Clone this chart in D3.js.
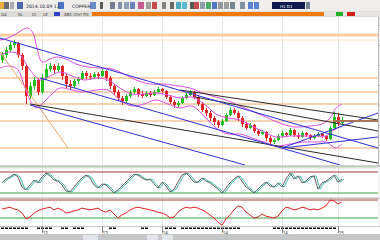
<!doctype html>
<html>
<head>
  <script src="https://cdnjs.cloudflare.com/ajax/libs/d3/7.8.5/d3.min.js"></script>
  <style>
    body { margin: 0; background: #d6d3ce; }
    svg { display: block; font-family: "DejaVu Sans", sans-serif; }
    .grid line { stroke: #e6e6e6; shape-rendering: crispEdges; }
    .grid path { display: none; }
  </style>
</head>
<body>
  <svg width="380" height="240"></svg>
  <script>
    // daily bars, copper in cents/lb
    var opens = [385,390,395,400,402,390,379,349,359,365,
      353,367,376,379,375,379,369,361,359,364,
      366,372,369,368,371,369,374,367,359,353,
      347,344,349,353,356,351,349,352,350,353,
      356,354,348,343,340,342,347,350,353,348,
      341,335,332,327,323,320,324,330,335,332,
      327,321,317,320,314,311,313,307,303,305,
      309,312,310,315,310,308,312,310,307,309,
      311,309,306,317,328,322];
    var highs = [393,398,403,405,403,392,381,363,368,367,
      371,381,382,381,382,380,371,365,366,368,
      374,374,372,373,373,376,375,369,361,355,
      349,351,355,358,357,354,354,354,355,358,
      357,355,350,345,344,349,352,355,354,350,
      343,337,334,329,325,326,332,338,337,334,
      329,323,322,321,316,315,314,309,307,311,
      314,313,317,316,312,314,313,311,311,313,
      312,310,319,333,332,328];
    var lows = [382,387,393,397,387,375,341,346,355,350,
      351,365,373,372,373,365,357,355,357,361,
      365,366,365,366,366,368,364,356,350,344,
      340,342,347,351,348,347,348,348,349,352,
      351,346,341,337,338,341,346,349,346,339,
      333,329,324,320,317,319,323,329,330,324,
      318,315,316,312,309,310,304,299,301,304,
      307,308,309,308,306,307,308,305,306,308,
      307,304,305,316,319,320];
    var closes = [390,395,400,402,390,379,349,359,365,353,
      367,376,379,375,379,369,361,359,364,366,
      372,369,368,371,369,374,367,359,353,347,
      344,349,353,356,351,349,352,350,353,356,
      354,348,343,340,342,347,350,353,348,341,
      335,332,327,323,320,324,330,335,332,327,
      321,317,320,314,311,313,307,303,305,309,
      312,310,315,310,308,312,310,307,309,311,
      309,306,317,328,322,325];

    // bollinger bands as [bar, price]
    var upperBand = [[-0.5,405],[1.5,407],[3.5,411],[5,415],[6.5,417],[7.75,412],[8.75,397],[10,383],[11.5,385],[13.5,388],
      [16,386],[18.5,381],[21.5,378],[24.5,377],[27.5,376],[30.5,371],[33.5,365],[37,361],[40.5,361],[44,359],
      [47,357],[49.5,353],[52.5,349],[56,345],[59.5,339],[63,333],[66.5,327],[70,321],[73.5,318],[77,319],
      [80,321],[82,327],[83.5,337],[85,341]];
    var midBand = [[-0.5,390],[2,393],[4.5,390],[7,375],[9.5,365],[12,369],[14.5,373],[17.5,369],[20.5,365],[23.5,367],
      [26.5,365],[29.5,357],[32.5,351],[35.5,351],[38.5,352],[41.5,350],[44.5,347],[47.5,348],[50.5,341],[53.5,331],
      [56.5,327],[59.5,325],[62.5,319],[65.5,313],[68.5,308],[72,309],[75.5,309],[78.5,309],[81,309],[83,315],[85,319]];
    var lowerBand = [[-0.5,377],[2,379],[4,375],[5.5,360],[7,345],[8.5,337],[10,341],[12,349],[14.5,357],[17.5,355],
      [20.5,353],[23.5,355],[26.5,355],[29.5,345],[32.5,339],[35.5,341],[38.5,345],[41.5,341],[44.5,337],[47.5,339],
      [50.5,329],[53.5,317],[56.5,311],[59.5,311],[62.5,307],[65.5,303],[68.5,299],[72,301],[75.5,303],[78.5,303],
      [81,303],[82.5,299],[83.5,297],[85,301]];

    // horizontal support / resistance levels
    var levels = [410, 405, 367, 353, 341, 324, 297];
    // drawn trend lines [[bar, price], [bar, price]]
    var blueLines = [[[-0.5,407],[94,297]], [[9.5,367],[84.5,280]], [[7,340],[60.75,280]],
      [[70,297],[94,332]], [[70.25,297],[94,308]]];
    var blackLines = [[[7,341],[94,282]], [[44.5,355],[94,325]], [[48.25,348],[94,314]]];
    var orangeLine = [[-0.5,393],[16.5,297]];
    var brownLine = [[82.75,324],[94,324]];

    // oscillators, one value per bar
    var stoch = [49,60,66,74,66,37,29,43,57,49,
      66,77,69,57,54,43,26,23,37,51,
      63,71,63,43,34,46,43,31,20,29,
      40,51,63,74,71,63,57,60,46,34,
      51,40,23,31,51,71,77,66,51,51,
      63,54,49,40,31,20,34,49,60,69,
      54,37,29,20,31,43,51,40,37,49,
      37,60,77,60,69,49,54,66,69,31,
      49,54,63,71,51,60];
    var rsi = [50,52,54,50,48,41,28,32,41,46,
      50,52,54,48,52,48,41,43,46,48,
      52,50,48,50,52,46,43,48,39,30,
      37,41,48,52,54,52,50,48,46,43,
      41,37,30,32,43,50,54,52,54,52,
      48,43,37,30,21,14,28,37,48,57,
      54,43,37,30,32,39,34,32,30,34,
      46,54,52,48,50,54,52,48,50,48,
      52,57,70,68,61,66];

    var timeTicks = [10, 25, 40, 55, 70, 84];
    var timeLabels = ["13", "13", "14", "14", "14", "15"];
    var sessionMarks = [[0,6],[9,12],[15,16],[18,20],[27,28],[35,36],[41,42],[43,43],[45,59],[68,83]];

    var svg = d3.select("svg");
    var x = d3.scaleLinear().domain([-0.5, 94]).range([0, 378]);
    var y = d3.scaleLinear().domain([280, 428]).range([165, 17]);
    var yS = d3.scaleLinear().domain([0, 100]).range([200, 165]);
    var yR = d3.scaleLinear().domain([30, 70]).range([218, 200]);
    var bars = d3.range(closes.length);

    var defs = svg.append("defs");
    function clip(id, y0, h) {
      defs.append("clipPath").attr("id", id).append("rect")
        .attr("x", 0).attr("y", y0).attr("width", 378).attr("height", h);
    }
    clip("cMain", 17, 148); clip("cSto", 167, 30); clip("cRsi", 199, 27);

    // ---- toolbar ----
    svg.append("rect").attr("width", 380).attr("height", 11).attr("fill", "#efeeeb");
    var icons = [[0,4,"#e8a020"],[4,5,"#505860"],[10,4,"#9aa0a8"],[17,6,"#3050a0"],[58,6,"#3060c0"],[90,6,"#5078c0"],
      [100,3,"#404040"],[110,5,"#606a80"],[118,4,"#7080a0"],[124,5,"#8090b0"],[130,5,"#5070b0"],[138,6,"#c04080"],
      [146,5,"#909090"],[152,5,"#c03030"],[162,4,"#707070"],[170,4,"#505050"],[176,5,"#30a0c0"],[182,5,"#40b0d0"],
      [190,4,"#404040"],[194,5,"#c03030"],[200,5,"#8090a0"],[206,5,"#30a050"],[212,5,"#3060c0"],[218,5,"#808890"],
      [224,5,"#909090"],[230,5,"#607080"],[240,5,"#708090"],[248,5,"#4070d0"],[254,5,"#4070d0"],[306,4,"#607080"]];
    svg.selectAll("rect.icon").data(icons).enter().append("rect")
      .attr("x", d => d[0]).attr("y", 2).attr("width", d => d[1]).attr("height", 7)
      .attr("fill", d => d[2]).attr("opacity", 0.85);
    svg.append("text").attr("x", 26).attr("y", 8).attr("font-size", 4.6).attr("fill", "#223").text("2014.10.09 12");
    svg.append("text").attr("x", 72).attr("y", 8).attr("font-size", 4.6).attr("fill", "#223").text("COPPER");
    svg.append("rect").attr("x", 272).attr("y", 2).attr("width", 33).attr("height", 7).attr("fill", "#101850");
    svg.append("text").attr("x", 280).attr("y", 7.5).attr("font-size", 4).attr("fill", "#fff").text("H1 D1");

    // tab row
    svg.append("rect").attr("y", 11).attr("width", 380).attr("height", 6).attr("fill", "#dddcd8");
    [["Gd",1],["SL",18],["Cl",32],["LE",43],["ABC Chrt Fill",64]].forEach(function (t) {
      svg.append("text").attr("x", t[1]).attr("y", 16).attr("font-size", 4).attr("fill", "#333").text(t[0]);
    });
    svg.append("rect").attr("x", 54).attr("y", 12).attr("width", 6).attr("height", 4).attr("fill", "#3040c0");
    svg.append("rect").attr("x", 92).attr("y", 12).attr("width", 288).attr("height", 4).attr("fill", "#f07a10");
    svg.append("rect").attr("x", 324).attr("y", 12).attr("width", 56).attr("height", 4).attr("fill", "#e8e6e2");
    svg.append("rect").attr("x", 336).attr("y", 12).attr("width", 7).attr("height", 4).attr("fill", "#22b022");
    svg.append("rect").attr("x", 347).attr("y", 12).attr("width", 8).attr("height", 4).attr("fill", "#d02020");

    // ---- panels ----
    svg.append("rect").attr("x", 0).attr("y", 17).attr("width", 378).attr("height", 148).attr("fill", "#fff");
    svg.append("rect").attr("x", 0).attr("y", 167).attr("width", 378).attr("height", 30).attr("fill", "#fff");
    svg.append("rect").attr("x", 0).attr("y", 199).attr("width", 378).attr("height", 27).attr("fill", "#fff");
    svg.append("rect").attr("x", 0).attr("y", 226).attr("width", 380).attr("height", 8).attr("fill", "#fff");
    svg.append("rect").attr("x", 378).attr("y", 17).attr("width", 2).attr("height", 209).attr("fill", "#f4f4f4");

    // vertical grid in each panel
    [[165, 148], [197, 30], [226, 27]].forEach(function (p) {
      svg.append("g").attr("class", "grid").attr("transform", "translate(0," + p[0] + ")")
        .call(d3.axisBottom(x).tickValues(timeTicks).tickSize(-p[1]).tickFormat(""));
    });

    // right price axis (its labels sit outside the window)
    svg.append("g").attr("transform", "translate(378,0)")
      .call(d3.axisRight(y).ticks(6).tickSize(2).tickFormat(""))
      .call(g => g.selectAll("line,path").attr("stroke", "#b8b8b8"));

    var main = svg.append("g").attr("clip-path", "url(#cMain)");

    main.selectAll("line.level").data(levels).enter().append("line")
      .attr("x1", 0).attr("x2", 378)
      .attr("y1", d => y(d)).attr("y2", d => y(d))
      .attr("stroke", (d, i) => i === 0 ? "#fbcda0" : i === 1 ? "#fde4cc" : "#eea868")
      .attr("stroke-width", (d, i) => i === 0 ? 3 : 1);

    var seg = d3.line().x(d => x(d[0])).y(d => y(d[1]));

    // candles
    var up = "#1fc01f", dn = "#e02626";
    main.selectAll("line.wick").data(bars).enter().append("line")
      .attr("x1", i => x(i) + 0.5).attr("x2", i => x(i) + 0.5)
      .attr("y1", i => y(highs[i])).attr("y2", i => y(lows[i]))
      .attr("stroke", i => closes[i] >= opens[i] ? up : dn);
    main.selectAll("rect.body").data(bars).enter().append("rect")
      .attr("x", i => x(i) - 1).attr("width", 3)
      .attr("y", i => y(Math.max(opens[i], closes[i])))
      .attr("height", i => Math.max(1, Math.abs(y(opens[i]) - y(closes[i]))))
      .attr("fill", i => closes[i] >= opens[i] ? up : dn);

    // bands
    var band = d3.line().curve(d3.curveCatmullRom).x(d => x(d[0])).y(d => y(d[1]));
    [upperBand, midBand, lowerBand].forEach(function (b) {
      main.append("path").attr("d", band(b)).attr("fill", "none").attr("stroke", "#e04ee0").attr("stroke-width", 1);
    });

    // trend lines
    main.append("path").attr("d", seg(orangeLine)).attr("stroke", "#eda060").attr("fill", "none");
    blackLines.forEach(function (l) {
      main.append("path").attr("d", seg(l)).attr("stroke", "#2a2a2a").attr("fill", "none");
    });
    blueLines.forEach(function (l) {
      main.append("path").attr("d", seg(l)).attr("stroke", "#2c30d8").attr("fill", "none");
    });
    main.append("path").attr("d", seg(brownLine)).attr("stroke", "#a8745a").attr("stroke-width", 2).attr("fill", "none");

    // ---- stochastic ----
    var sto = svg.append("g").attr("clip-path", "url(#cSto)");
    [[92, "#b8e0b8"], [80, "#a83a3a"], [20, "#3aa03a"]].forEach(function (l) {
      sto.append("line").attr("x1", 0).attr("x2", 378).attr("y1", yS(l[0])).attr("y2", yS(l[0])).attr("stroke", l[1]);
    });
    sto.append("path").datum(stoch)
      .attr("d", d3.line().x((d, i) => x(i + 0.5)).y(d => yS(d)))
      .attr("fill", "none").attr("stroke", "#40c0b0");
    sto.append("path").datum(stoch)
      .attr("d", d3.line().x((d, i) => x(i)).y(d => yS(d)))
      .attr("fill", "none").attr("stroke", "#606060");

    // ---- rsi ----
    var rs = svg.append("g").attr("clip-path", "url(#cRsi)");
    [[70, "#a83a3a"], [30, "#3aa03a"]].forEach(function (l) {
      rs.append("line").attr("x1", 0).attr("x2", 378).attr("y1", yR(l[0])).attr("y2", yR(l[0])).attr("stroke", l[1]);
    });
    rs.append("path").datum(rsi)
      .attr("d", d3.line().x((d, i) => x(i)).y(d => yR(d)))
      .attr("fill", "none").attr("stroke", "#e02020");

    // panel separators
    [166, 198, 226].forEach(function (v) {
      svg.append("line").attr("x1", 0).attr("x2", 380).attr("y1", v + 0.5).attr("y2", v + 0.5).attr("stroke", "#c8c8c8");
    });

    // ---- time axis ----
    var marks = [];
    sessionMarks.forEach(function (r) { d3.range(r[0], r[1] + 1).forEach(i => marks.push(i)); });
    svg.selectAll("rect.mark").data(marks).enter().append("rect")
      .attr("x", i => x(i) - 1).attr("y", 227.5).attr("width", 3).attr("height", 1.5).attr("fill", "#111");
    svg.append("g").attr("transform", "translate(0,226)")
      .call(d3.axisBottom(x).tickValues(timeTicks).tickSize(7).tickFormat((d, i) => timeLabels[i]))
      .call(g => g.select(".domain").remove())
      .call(g => g.selectAll("line").attr("stroke", "#888"))
      .call(g => g.selectAll("text").attr("font-size", 4.5).attr("fill", "#333").attr("dy", "-0.2em").attr("dx", "0.6em"));

    // bottom bar
    svg.append("rect").attr("y", 234).attr("width", 380).attr("height", 6).attr("fill", "#c4c6ca");
    [[83, 15], [147, 11], [162, 11]].forEach(function (t) {
      svg.append("rect").attr("x", t[0]).attr("y", 235).attr("width", t[1]).attr("height", 5).attr("fill", "#e2e6ea");
    });
  </script>
</body>
</html>
